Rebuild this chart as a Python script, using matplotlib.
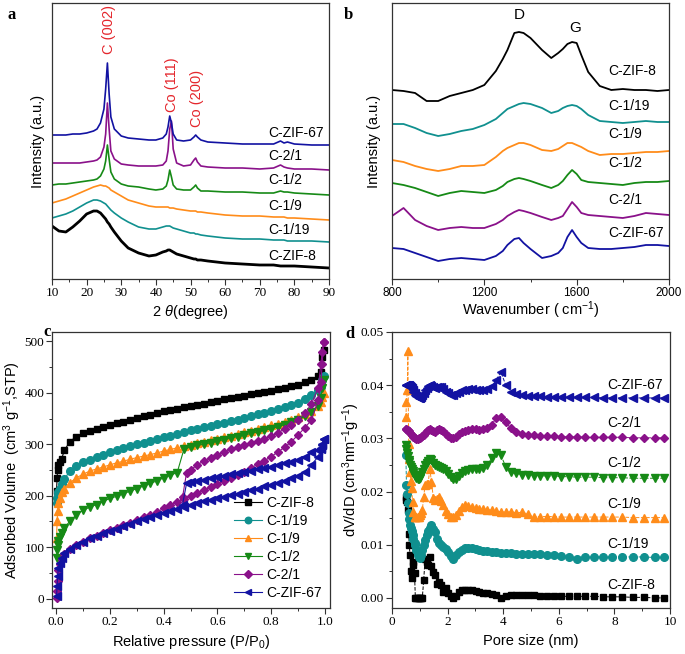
import matplotlib
matplotlib.use("Agg")
import matplotlib.pyplot as plt

SERIF = 'Liberation Serif'
SANS = 'Liberation Sans'
plt.rcParams['font.family'] = [SERIF, 'DejaVu Serif']
plt.rcParams['mathtext.fontset'] = 'custom'
plt.rcParams['mathtext.rm'] = SANS
plt.rcParams['mathtext.it'] = SANS + ':italic'
plt.rcParams['mathtext.bf'] = SANS + ':bold'
plt.rcParams['mathtext.default'] = 'rm'

names = ["C-ZIF-8", "C-1/19", "C-1/9", "C-1/2", "C-2/1", "C-ZIF-67"]
colors = ["#000000", "#10908f", "#ff8c1a", "#168a16", "#8a118a", "#1212a2"]

# ---------------- (a) XRD ----------------
xrd_2theta = [10, 12, 14, 16, 18, 20, 22, 23, 24, 25, 25.5, 26, 26.5, 27, 28, 30, 32, 35, 38, 40,
              42, 43, 43.5, 44, 44.5, 45, 46, 48, 50, 51, 51.5, 52, 53, 55, 60, 65, 70, 74, 76, 77,
              78, 80, 85, 90]
xrd_zif8 = [53, 48, 47, 52, 58, 65, 68, 68, 66, 62, 60, 57, 55, 52, 47, 38, 31, 26, 23, 24,
            27, 28, 29, 29, 28, 27, 25, 23, 21, 20, 20, 19, 19, 18, 16, 15, 14, 14, 13, 13,
            13, 13, 12, 11]
xrd_1_19 = [61, 63, 65, 68, 72, 76, 79, 79, 78, 76, 75, 73, 71, 69, 66, 61, 57, 52, 50, 50,
            52, 53, 53, 53, 52, 51, 50, 48, 46, 46, 45, 45, 44, 43, 41, 40, 40, 39, 39, 39,
            38, 38, 38, 37]
xrd_1_9 = [76, 78, 80, 83, 86, 89, 92, 93, 94, 93, 93, 92, 91, 89, 87, 83, 79, 76, 73, 72,
           72, 72, 72, 71, 71, 71, 70, 69, 68, 68, 68, 67, 67, 66, 64, 63, 63, 62, 62, 62,
           61, 61, 60, 59]
xrd_1_2 = [94, 95, 95, 96, 97, 98, 99, 100, 103, 110, 118, 134, 120, 107, 100, 95, 93, 92, 90, 89,
           90, 93, 99, 109, 102, 94, 90, 89, 89, 92, 94, 91, 88, 88, 87, 87, 86, 86, 88, 87,
           87, 86, 85, 84]
xrd_2_1 = [116, 116, 116, 116, 116, 117, 118, 119, 122, 132, 145, 176, 150, 128, 120, 115, 114, 113, 113, 113,
           114, 118, 128, 150, 158, 130, 116, 113, 114, 119, 121, 117, 113, 112, 111, 111, 110, 111, 114, 112,
           111, 110, 110, 109]
xrd_zif67 = [144, 144, 144, 145, 145, 146, 148, 150, 156, 170, 190, 216, 185, 162, 150, 143, 141, 140, 139, 139,
             141, 145, 152, 163, 156, 145, 139, 138, 139, 142, 144, 142, 139, 137, 136, 135, 135, 135, 138, 136,
             137, 135, 134, 134]
xrd_series = [xrd_zif8, xrd_1_19, xrd_1_9, xrd_1_2, xrd_2_1, xrd_zif67]
xrd_peaks = ["C (002)", "Co (111)", "Co (200)"]
xrd_ticks = [10, 20, 30, 40, 50, 60, 70, 80, 90]

# ---------------- (b) Raman ----------------
raman_wn = [800, 850, 900, 950, 1000, 1050, 1100, 1150, 1200, 1250, 1280, 1300, 1330, 1350, 1370, 1400,
            1450, 1490, 1520, 1540, 1560, 1580, 1600, 1620, 1650, 1700, 1750, 1800, 1850, 1900, 1950, 2000]
raman_zif8 = [189, 188, 186, 178, 178, 183, 186, 189, 194, 208, 220, 229, 246, 247, 246, 241,
              229, 221, 226, 230, 235, 237, 236, 224, 207, 193, 189, 190, 189, 189, 188, 189]
raman_1_19 = [155, 155, 151, 146, 143, 145, 148, 150, 154, 160, 166, 170, 173, 175, 176, 175,
              171, 166, 168, 171, 173, 174, 173, 170, 164, 158, 157, 156, 157, 158, 157, 157]
raman_1_9 = [119, 117, 113, 110, 108, 110, 113, 113, 114, 122, 128, 131, 134, 136, 136, 134,
             129, 128, 130, 133, 136, 136, 134, 132, 128, 124, 125, 125, 126, 127, 127, 128]
raman_1_2 = [96, 94, 91, 87, 83, 86, 88, 87, 86, 89, 93, 97, 100, 101, 100, 98,
             94, 91, 94, 98, 104, 109, 105, 99, 97, 96, 95, 94, 96, 97, 97, 98]
raman_2_1 = [63, 71, 59, 53, 49, 51, 52, 51, 51, 55, 59, 63, 67, 69, 68, 66,
             62, 59, 61, 63, 70, 77, 72, 66, 64, 63, 62, 61, 63, 66, 65, 64]
raman_zif67 = [31, 30, 26, 22, 18, 20, 21, 20, 19, 23, 28, 34, 40, 41, 36, 30,
               21, 23, 26, 31, 42, 49, 42, 36, 31, 30, 30, 31, 32, 34, 34, 33]
raman_series = [raman_zif8, raman_1_19, raman_1_9, raman_1_2, raman_2_1, raman_zif67]
raman_ticks = [800, 1200, 1600, 2000]

# ---------------- (c) N2 isotherms ----------------
ads_p = [0.001, 0.003, 0.005, 0.008, 0.012, 0.02, 0.03,
         0.05, 0.075, 0.1, 0.125, 0.15, 0.175, 0.2, 0.225, 0.25, 0.275,
         0.3, 0.325, 0.35, 0.375, 0.4, 0.425, 0.45, 0.475, 0.5, 0.525,
         0.55, 0.575, 0.6, 0.625, 0.65, 0.675, 0.7, 0.725, 0.75, 0.775,
         0.8, 0.825, 0.85, 0.875, 0.9, 0.925, 0.95, 0.975,
         0.985, 0.99, 0.995]
ads_zif8 = [210, 235, 250, 260, 266, 272, 288,
            305, 315, 321, 326, 330, 334, 337, 341, 344, 348,
            351, 354, 357, 361, 364, 366, 369, 372, 374, 377,
            379, 382, 384, 387, 389, 392, 394, 397, 399, 402,
            404, 407, 410, 413, 416, 420, 425, 432,
            440, 470, 483]
ads_1_19 = [185, 195, 202, 208, 213, 222, 232,
            248, 258, 265, 270, 275, 280, 284, 288, 292, 296,
            300, 303, 307, 310, 314, 317, 320, 323, 327, 330,
            333, 336, 339, 342, 345, 348, 351, 354, 358, 361,
            364, 368, 372, 376, 381, 387, 395, 405,
            412, 425, 433]
ads_1_9 = [118, 150, 170, 185, 195, 207, 214,
           225, 235, 242, 248, 252, 256, 260, 264, 267, 271,
           274, 277, 280, 283, 287, 290, 293, 296, 299, 302,
           305, 308, 311, 314, 317, 320, 323, 326, 330, 333,
           337, 340, 344, 348, 352, 358, 365, 375,
           382, 392, 400]
ads_1_2 = [80, 95, 105, 113, 120, 128, 138,
           150, 163, 172, 178, 183, 189, 195, 199, 204, 209,
           214, 219, 224, 229, 235, 240, 245, 290, 295, 298,
           300, 303, 306, 309, 312, 315, 318, 321, 324, 327,
           330, 334, 338, 343, 348, 354, 362, 375,
           390, 410, 425]
ads_2_1 = [2, 15, 35, 55, 68, 78, 86,
           97, 104, 111, 117, 122, 128, 133, 138, 143, 148,
           153, 158, 163, 168, 176, 182, 188, 194, 199, 205,
           211, 217, 223, 229, 235, 241, 247, 254, 261, 268,
           276, 285, 294, 305, 318, 332, 347, 385,
           420, 455, 499]
ads_zif67 = [5, 25, 45, 60, 70, 80, 88,
             97, 104, 111, 117, 122, 127, 132, 136, 141, 145,
             150, 154, 158, 163, 167, 171, 175, 179, 182, 185,
             189, 192, 195, 198, 201, 204, 208, 211, 214, 218,
             221, 225, 229, 234, 239, 246, 260, 276,
             290, 300, 310]
des_p = [0.995, 0.99, 0.985, 0.975, 0.95, 0.925, 0.9, 0.875, 0.85, 0.825, 0.8, 0.775, 0.75,
         0.725, 0.7, 0.675, 0.65, 0.625, 0.6, 0.575, 0.55, 0.525, 0.5, 0.485, 0.47]
des_2_1 = [499, 480, 455, 410, 378, 360, 347, 337, 330, 322, 316, 311, 307,
           303, 299, 294, 290, 285, 280, 274, 268, 260, 250, 245, 197]
des_zif67 = [310, 298, 292, 289, 284, 276, 270, 266, 263, 259, 256, 254, 251,
             249, 247, 244, 242, 239, 237, 234, 231, 228, 226, 224, 183]
ads_series = [ads_zif8, ads_1_19, ads_1_9, ads_1_2, ads_2_1, ads_zif67]
des_series = [None, None, None, None, des_2_1, des_zif67]
iso_xticks = [0.0, 0.2, 0.4, 0.6, 0.8, 1.0]
iso_yticks = [0, 100, 200, 300, 400, 500]

# ---------------- (d) pore size distribution ----------------
pore_nm = [0.50, 0.52, 0.55, 0.57, 0.60, 0.62, 0.65, 0.68, 0.71, 0.74,
           0.77, 0.81, 0.84, 0.88, 0.92, 0.96, 1.00, 1.05, 1.09, 1.14,
           1.19, 1.25, 1.30, 1.36, 1.42, 1.49, 1.55, 1.62, 1.70, 1.77,
           1.85, 1.94, 2.02, 2.11, 2.21, 2.31, 2.41, 2.52, 2.64, 2.75,
           2.88, 3.01, 3.14, 3.28, 3.43, 3.59, 3.75, 3.92, 4.09, 4.28,
           4.47, 4.67, 4.88, 5.10, 5.33, 5.57, 5.82, 6.08, 6.36, 6.64,
           6.94, 7.26, 7.58, 7.93, 8.28, 8.66, 9.05, 9.45, 9.80]
psd_zif8 = [0.0190, 0.0185, 0.0180, 0.0165, 0.0121, 0.0100, 0.0080, 0.0050, 0.0037, 0.0061,
            0.0068, 0.0046, 0.0000, 0.0000, 0.0000, 0.0000, 0.0000, 0.0000, 0.0000, 0.0033,
            0.0074, 0.0068, 0.0061, 0.0077, 0.0060, 0.0049, 0.0043, 0.0027, 0.0030, 0.0025,
            0.0012, 0.0018, 0.0010, 0.0003, 0.0000, 0.0003, 0.0012, 0.0014, 0.0015, 0.0015,
            0.0014, 0.0013, 0.0011, 0.0010, 0.0009, 0.0008, 0.0006, 0.0000, 0.0004, 0.0005,
            0.0005, 0.0005, 0.0005, 0.0005, 0.0004, 0.0004, 0.0004, 0.0003, 0.0003, 0.0003,
            0.0003, 0.0003, 0.0002, 0.0002, 0.0002, 0.0001, 0.0001, 0.0000, 0.0000]
psd_1_19 = [0.0268, 0.0212, 0.0195, 0.0178, 0.0160, 0.0148, 0.0138, 0.0131, 0.0125, 0.0118,
            0.0110, 0.0104, 0.0099, 0.0090, 0.0080, 0.0076, 0.0075, 0.0080, 0.0090, 0.0099,
            0.0108, 0.0118, 0.0125, 0.0131, 0.0137, 0.0130, 0.0123, 0.0110, 0.0103, 0.0100,
            0.0096, 0.0092, 0.0087, 0.0078, 0.0074, 0.0080, 0.0086, 0.0090, 0.0093, 0.0094,
            0.0093, 0.0092, 0.0090, 0.0089, 0.0088, 0.0087, 0.0086, 0.0085, 0.0084, 0.0084,
            0.0083, 0.0083, 0.0082, 0.0082, 0.0082, 0.0081, 0.0080, 0.0079, 0.0077, 0.0074,
            0.0076, 0.0077, 0.0077, 0.0077, 0.0077, 0.0077, 0.0077, 0.0076, 0.0076]
psd_1_9 = [0.0340, 0.0368, 0.0390, 0.0465, 0.0290, 0.0262, 0.0237, 0.0220, 0.0206, 0.0180,
           0.0162, 0.0152, 0.0152, 0.0152, 0.0152, 0.0153, 0.0155, 0.0160, 0.0165, 0.0190,
           0.0212, 0.0214, 0.0215, 0.0243, 0.0218, 0.0187, 0.0184, 0.0186, 0.0190, 0.0183,
           0.0174, 0.0164, 0.0158, 0.0153, 0.0152, 0.0155, 0.0164, 0.0170, 0.0174, 0.0173,
           0.0171, 0.0169, 0.0168, 0.0167, 0.0166, 0.0165, 0.0163, 0.0162, 0.0161, 0.0162,
           0.0160, 0.0161, 0.0158, 0.0153, 0.0153, 0.0153, 0.0153, 0.0152, 0.0152, 0.0152,
           0.0152, 0.0152, 0.0152, 0.0152, 0.0152, 0.0151, 0.0151, 0.0151, 0.0151]
psd_1_2 = [0.0287, 0.0280, 0.0272, 0.0266, 0.0260, 0.0255, 0.0250, 0.0246, 0.0243, 0.0239,
           0.0235, 0.0232, 0.0229, 0.0226, 0.0224, 0.0224, 0.0226, 0.0231, 0.0237, 0.0243,
           0.0249, 0.0254, 0.0258, 0.0261, 0.0259, 0.0254, 0.0250, 0.0248, 0.0247, 0.0245,
           0.0243, 0.0238, 0.0233, 0.0228, 0.0223, 0.0224, 0.0229, 0.0234, 0.0238, 0.0241,
           0.0242, 0.0243, 0.0243, 0.0245, 0.0250, 0.0263, 0.0272, 0.0268, 0.0247, 0.0236,
           0.0234, 0.0232, 0.0231, 0.0230, 0.0230, 0.0229, 0.0229, 0.0228, 0.0228, 0.0227,
           0.0227, 0.0227, 0.0226, 0.0226, 0.0226, 0.0225, 0.0225, 0.0225, 0.0225]
psd_2_1 = [0.0317, 0.0317, 0.0316, 0.0315, 0.0314, 0.0313, 0.0311, 0.0309, 0.0307, 0.0305,
           0.0303, 0.0301, 0.0300, 0.0299, 0.0299, 0.0300, 0.0300, 0.0302, 0.0304, 0.0307,
           0.0310, 0.0313, 0.0316, 0.0317, 0.0316, 0.0313, 0.0312, 0.0315, 0.0317, 0.0316,
           0.0313, 0.0309, 0.0305, 0.0301, 0.0300, 0.0303, 0.0308, 0.0312, 0.0314, 0.0316,
           0.0317, 0.0317, 0.0316, 0.0317, 0.0320, 0.0326, 0.0338, 0.0340, 0.0330, 0.0319,
           0.0312, 0.0309, 0.0307, 0.0306, 0.0305, 0.0305, 0.0304, 0.0303, 0.0303, 0.0303,
           0.0302, 0.0302, 0.0302, 0.0302, 0.0302, 0.0301, 0.0301, 0.0301, 0.0301]
psd_zif67 = [0.0400, 0.0400, 0.0401, 0.0401, 0.0400, 0.0399, 0.0398, 0.0396, 0.0394, 0.0391,
             0.0388, 0.0385, 0.0382, 0.0379, 0.0377, 0.0376, 0.0376, 0.0378, 0.0381, 0.0385,
             0.0390, 0.0395, 0.0398, 0.0400, 0.0399, 0.0396, 0.0394, 0.0396, 0.0397, 0.0396,
             0.0392, 0.0388, 0.0385, 0.0382, 0.0382, 0.0385, 0.0388, 0.0390, 0.0391, 0.0392,
             0.0392, 0.0391, 0.0390, 0.0391, 0.0393, 0.0398, 0.0410, 0.0425, 0.0400, 0.0388,
             0.0383, 0.0381, 0.0380, 0.0379, 0.0379, 0.0378, 0.0378, 0.0378, 0.0377, 0.0377,
             0.0377, 0.0377, 0.0376, 0.0376, 0.0376, 0.0376, 0.0376, 0.0376, 0.0376]
psd_series = [psd_zif8, psd_1_19, psd_1_9, psd_1_2, psd_2_1, psd_zif67]
psd_xticks = [0, 2, 4, 6, 8, 10]
psd_yticks = [0.00, 0.01, 0.02, 0.03, 0.04, 0.05]
markers = ["s", "o", "^", "v", "D", "<"]
msizes = [5, 5.5, 5.5, 5.5, 4.5, 5.5]

# ---------------- figure ----------------
W, H = 685, 654
fig = plt.figure(figsize=(W / 100, H / 100), dpi=100)


def box(l, t, r, b):
    return [l / W, 1 - b / H, (r - l) / W, (b - t) / H]


axa = fig.add_axes(box(52, 3, 329, 279))
axb = fig.add_axes(box(392, 3, 669, 279))
axc = fig.add_axes(box(52, 332, 330, 608))
axd = fig.add_axes(box(392, 332, 670, 608))

for ax in (axa, axb, axc, axd):
    for s in ax.spines.values():
        s.set_color('#333333')
        s.set_linewidth(0.9)
    ax.tick_params(which='both', direction='out', top=False, right=False, color='#333333')
    ax.tick_params(which='major', length=4, width=0.8, pad=2, labelsize=9.5)
    ax.tick_params(which='minor', length=2.5, width=0.7)

LAB = 10.5
TXT = dict(fontsize=10, family=SANS)


def labels(ax, xl, yl, xpos, ypos):
    ax.set_xlabel(xl, fontsize=LAB, family=SANS)
    ax.set_ylabel(yl, fontsize=LAB, family=SANS)
    ax.xaxis.set_label_coords(0.5, xpos)
    ax.yaxis.set_label_coords(ypos, 0.5)
    ax.xaxis.label.set_va('center')
    ax.yaxis.label.set_va('center')


# (a)
for ys, c in zip(xrd_series, colors):
    axa.plot(xrd_2theta, ys, color=c, lw=2.0 if c == "#000000" else 1.2)
axa.set_yticks([])
axa.set_xticks(xrd_ticks)
axa.set_xticks([15, 25, 35, 45, 55, 65, 75, 85], minor=True)
axa.set_xlim(10, 90)
axa.set_ylim(0, 276)
labels(axa, r"2 $\mathit{\theta}$(degree)", "Intensity (a.u.)", -0.12, -0.052)
for name, yl in zip(names, [23, 49, 73, 99, 123, 146]):
    axa.text(72.4, yl, name, ha='left', va='center', **TXT)
for lbl, xp, yp in zip(xrd_peaks, [26.6, 44.7, 51.8], [249, 194, 181]):
    axa.text(xp, yp, lbl, color='#e4262c', rotation=90, fontsize=10.5, family=SANS,
             ha='center', va='center')
fig.text(12 / W, 1 - 15 / H, "a", fontsize=12, fontweight='bold', ha='center', va='center')

# (b)
for ys, c in zip(raman_series, colors):
    axb.plot(raman_wn, ys, color=c, lw=1.3)
axb.set_yticks([])
axb.set_xticks(raman_ticks, labels=[str(v) for v in raman_ticks], fontfamily=SANS, fontsize=8.5)
axb.set_xticks([1000, 1400, 1800], minor=True)
axb.set_xlim(800, 2000)
axb.set_ylim(0, 276)
labels(axb, r"Wavenumber ( cm$^{-1}$)", "Intensity (a.u.)", -0.112, -0.065)
for name, yl in zip(names, [208, 173, 145, 116, 79, 46]):
    axb.text(1737, yl, name, ha='left', va='center', **TXT)
axb.text(1350, 264, "D", fontsize=11, family=SANS, ha='center', va='center')
axb.text(1595, 251, "G", fontsize=11, family=SANS, ha='center', va='center')
fig.text(348 / W, 1 - 15 / H, "b", fontsize=12, fontweight='bold', ha='center', va='center')

# (c)
for name, ads, des, c, m, ms in zip(names, ads_series, des_series, colors, markers, msizes):
    axc.plot(ads_p, ads, color=c, lw=0.8, marker=m, ms=ms, mec=c, mfc=c, label=name)
    if des is not None:
        axc.plot(des_p, des, color=c, lw=0.8, marker=m, ms=ms, mec=c, mfc=c)
axc.set_xticks(iso_xticks, labels=["{:.1f}".format(v) for v in iso_xticks])
axc.set_xticks([0.1, 0.3, 0.5, 0.7, 0.9], minor=True)
axc.set_yticks(iso_yticks)
axc.set_yticks([50, 150, 250, 350, 450], minor=True)
axc.tick_params(axis='y', which='major', pad=1.5)
axc.set_xlim(-0.016, 1.019)
axc.set_ylim(-18, 518)
labels(axc, r"Relative pressure (P/P$_0$)", r"Adsorbed Volume  (cm$^3$ g$^{-1}$,STP)", -0.123, -0.142)
axc.legend(loc='lower right', frameon=False, prop={'family': SANS, 'size': 10},
           handlelength=2.0, handletextpad=0.3, labelspacing=0.28, borderaxespad=0.2,
           markerscale=0.85)
fig.text(47 / W, 1 - 332 / H, "c", fontsize=12, fontweight='bold', ha='center', va='center')

# (d)
for name, ys, c, m, ms in zip(names, psd_series, colors, markers, msizes):
    axd.plot(pore_nm, ys, color=c, lw=0.7, ls='--', marker=m, ms=ms, mec=c, mfc=c)
axd.set_xticks(psd_xticks)
axd.set_xticks([1, 3, 5, 7, 9], minor=True)
axd.set_yticks(psd_yticks, labels=["{:.2f}".format(v) for v in psd_yticks])
axd.set_yticks([0.005, 0.015, 0.025, 0.035, 0.045], minor=True)
axd.set_xlim(0, 10)
axd.set_ylim(-0.0019, 0.05)
labels(axd, "Pore size (nm)", r"dV/dD (cm$^3$nm$^{-1}$g$^{-1}$)", -0.12, -0.145)
for name, yl in zip(names, [0.0024, 0.0102, 0.0177, 0.0253, 0.0328, 0.0400]):
    axd.text(7.76, yl, name, ha='left', va='center', **TXT)
fig.text(350 / W, 1 - 334 / H, "d", fontsize=12, fontweight='bold', ha='center', va='center')

fig.savefig("out.png", dpi=100)
